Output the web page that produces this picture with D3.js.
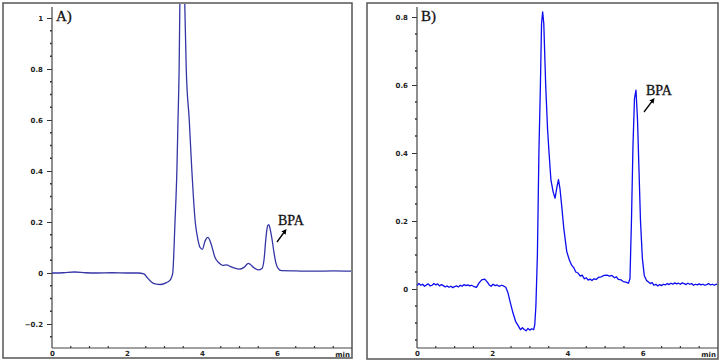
<!DOCTYPE html>
<html>
<head>
<meta charset="utf-8">
<script src="https://cdn.jsdelivr.net/npm/d3@7"></script>
<style>
  body { margin: 0; background: #fff; }
  svg { display: block; }
  .tick text { font-family: "DejaVu Sans", sans-serif; font-weight: bold; font-size: 7px; fill: #222; }
</style>
</head>
<body>
<script>
// chromatogram A (time in min, absorbance)
const traceA = [
  [0, 0], [0.3, 0.001], [0.6, 0.004], [0.9, 0.001], [1.2, 0.0], [1.6, 0.001], [2.0, 0.0], [2.3, 0.0],
  [2.45, -0.003], [2.55, -0.02], [2.65, -0.035], [2.75, -0.043], [2.9, -0.045], [3.05, -0.038],
  [3.15, -0.028], [3.2, -0.012], [3.22, 0.0], [3.28, 0.2], [3.33, 0.4], [3.36, 0.6], [3.39, 0.8],
  [3.41, 1.06], [3.44, 1.3], [3.5, 1.35], [3.54, 1.06], [3.58, 0.8], [3.66, 0.6], [3.73, 0.4],
  [3.77, 0.3], [3.82, 0.2], [3.88, 0.14], [3.95, 0.1], [4.01, 0.093], [4.08, 0.125], [4.16, 0.14],
  [4.24, 0.115], [4.35, 0.06], [4.45, 0.04], [4.55, 0.03], [4.66, 0.032], [4.75, 0.026], [4.85, 0.02],
  [5.0, 0.015], [5.12, 0.022], [5.24, 0.038], [5.35, 0.025], [5.5, 0.012], [5.6, 0.018], [5.66, 0.06],
  [5.7, 0.13], [5.75, 0.185], [5.78, 0.19], [5.82, 0.17], [5.87, 0.13], [5.92, 0.08], [5.97, 0.04],
  [6.03, 0.018], [6.12, 0.009], [6.5, 0.008], [7.0, 0.007], [7.5, 0.008], [8.0, 0.007]
];

// chromatogram B
const traceB = [
  [0, 0.01], [0.05, 0.016], [0.1, 0.011], [0.15, 0.014], [0.2, 0.008], [0.25, 0.012], [0.3, 0.015],
  [0.35, 0.009], [0.4, 0.011], [0.45, 0.016], [0.5, 0.012], [0.55, 0.015], [0.6, 0.009], [0.65, 0.013],
  [0.7, 0.01], [0.75, 0.006], [0.8, 0.009], [0.85, 0.005], [0.9, 0.008], [0.95, 0.004], [1.0, 0.007],
  [1.05, 0.009], [1.1, 0.006], [1.15, 0.011], [1.2, 0.008], [1.25, 0.013], [1.3, 0.01], [1.35, 0.012],
  [1.4, 0.009], [1.45, 0.011], [1.5, 0.008], [1.58, 0.005], [1.65, 0.018], [1.72, 0.027], [1.8, 0.029],
  [1.87, 0.02], [1.92, 0.012], [1.97, 0.008], [2.02, 0.014], [2.08, 0.01], [2.13, 0.012], [2.18, 0.008],
  [2.25, 0.011], [2.3, 0.009], [2.36, 0.005], [2.42, -0.012],
  [2.48, -0.04], [2.55, -0.07], [2.62, -0.095], [2.7, -0.11], [2.75, -0.12], [2.8, -0.114],
  [2.85, -0.119], [2.9, -0.123], [2.95, -0.116], [3.0, -0.121], [3.05, -0.117], [3.1, -0.12],
  [3.13, -0.105], [3.16, -0.05], [3.2, 0.1],
  [3.24, 0.4], [3.28, 0.6], [3.31, 0.78], [3.34, 0.815], [3.37, 0.78], [3.42, 0.6], [3.47, 0.47],
  [3.51, 0.4], [3.56, 0.32], [3.62, 0.285], [3.67, 0.267], [3.72, 0.3], [3.76, 0.322], [3.8, 0.295],
  [3.85, 0.24], [3.9, 0.18], [3.98, 0.11], [4.05, 0.085], [4.11, 0.07], [4.17, 0.062], [4.22, 0.05],
  [4.28, 0.047], [4.34, 0.038], [4.39, 0.041], [4.45, 0.03], [4.5, 0.033], [4.55, 0.026], [4.6, 0.029],
  [4.65, 0.025], [4.7, 0.03], [4.76, 0.028], [4.82, 0.034], [4.9, 0.036], [4.97, 0.04], [5.05, 0.041],
  [5.12, 0.038], [5.18, 0.04], [5.25, 0.033], [5.3, 0.036], [5.35, 0.028], [5.42, 0.027], [5.48, 0.022],
  [5.55, 0.02], [5.62, 0.017], [5.66, 0.03], [5.7, 0.2], [5.74, 0.42], [5.78, 0.56], [5.82, 0.585],
  [5.86, 0.5], [5.9, 0.35], [5.94, 0.2], [5.99, 0.09], [6.04, 0.04], [6.1, 0.025], [6.15, 0.021],
  [6.2, 0.016], [6.25, 0.019], [6.3, 0.011], [6.35, 0.014], [6.4, 0.009], [6.45, 0.013], [6.5, 0.01],
  [6.55, 0.014], [6.6, 0.012], [6.65, 0.016], [6.7, 0.013], [6.75, 0.017], [6.8, 0.014], [6.85, 0.018],
  [6.9, 0.015], [6.95, 0.017], [7.0, 0.014], [7.05, 0.018], [7.1, 0.016], [7.15, 0.013], [7.2, 0.017],
  [7.25, 0.014], [7.3, 0.016], [7.35, 0.011], [7.4, 0.014], [7.45, 0.012], [7.5, 0.015], [7.55, 0.012],
  [7.6, 0.014], [7.65, 0.011], [7.7, 0.013], [7.75, 0.016], [7.8, 0.012], [7.85, 0.014], [7.9, 0.011],
  [7.95, 0.014], [8.0, 0.013]
];

const xTicks = [0, 2, 4, 6];
const yTicksA = [-0.2, 0, 0.2, 0.4, 0.6, 0.8, 1];
const yTicksB = [0, 0.2, 0.4, 0.6, 0.8];

const svg = d3.select("body").append("svg").attr("width", 722).attr("height", 361);

const panels = [
  { id: "a", label: "A)", data: traceA, color: "#3535a6", curve: d3.curveMonotoneX,
    box: [3, 3, 352, 358], x0: 52, yDom: [0, 1], yRange: [273, 18], yMin: -0.294, yTicks: yTicksA,
    yFmt: d => d === 0 || d === 1 ? d3.format("d")(d) : d3.format(".1f")(d),
    bpa: { x: 278, y: 225, ax1: [277, 242], ax2: [285, 231] } },
  { id: "b", label: "B)", data: traceB, color: "#0c0cf0", curve: d3.curveLinear,
    box: [367, 3, 718, 359], x0: 417, yDom: [0, 0.8], yRange: [289, 17], yMin: -0.174, yTicks: yTicksB,
    yFmt: d => d === 0 ? "0" : d3.format(".1f")(d),
    bpa: { x: 646, y: 95, ax1: [644, 112], ax2: [653, 100] } }
];

const defs = svg.append("defs");
defs.append("marker").attr("id", "arr").attr("viewBox", "0 0 10 10")
  .attr("refX", 5).attr("refY", 5).attr("markerWidth", 4).attr("markerHeight", 4)
  .attr("orient", "auto")
  .append("path").attr("d", "M0,0L10,5L0,10z").attr("fill", "#000");

panels.forEach(p => {
  const [bx0, by0, bx1, by1] = p.box;
  const xAxisY = 348;
  const x = d3.scaleLinear().domain([0, 8]).range([p.x0, bx1]);
  const y = d3.scaleLinear().domain(p.yDom).range(p.yRange);

  svg.append("rect")
    .attr("x", bx0).attr("y", by0).attr("width", bx1 - bx0).attr("height", by1 - by0)
    .attr("fill", "none").attr("stroke", "#555").attr("stroke-width", 1.5);

  defs.append("clipPath").attr("id", "clip-" + p.id)
    .append("rect").attr("x", p.x0).attr("y", by0 + 1)
    .attr("width", bx1 - p.x0 - 1).attr("height", xAxisY - by0 - 1);

  // y axis
  const yAx = svg.append("g").attr("transform", `translate(${p.x0},0)`)
    .call(d3.axisLeft(y).tickValues(p.yTicks).tickFormat(p.yFmt).tickSize(5).tickPadding(4));
  yAx.select(".domain").remove();
  yAx.selectAll(".tick line").attr("stroke", "#333");
  const minorY = d3.range(Math.ceil(p.yMin / 0.05) * 0.05, y.invert(by0 + 4), 0.05)
    .filter(v => Math.abs(Math.round(v / 0.2) * 0.2 - v) > 0.01);
  svg.append("g").selectAll("line").data(minorY).join("line")
    .attr("x1", p.x0 - 2).attr("x2", p.x0).attr("y1", d => y(d)).attr("y2", d => y(d))
    .attr("stroke", "#333").attr("stroke-width", 1.5);
  svg.append("line").attr("x1", p.x0).attr("x2", p.x0).attr("y1", by0 + 4).attr("y2", xAxisY)
    .attr("stroke", "#444").attr("stroke-width", 1.2);

  // x axis
  const xAx = svg.append("g").attr("transform", `translate(0,${xAxisY})`)
    .call(d3.axisBottom(x).tickValues(xTicks).tickFormat(d3.format("d")).tickSize(0).tickPadding(3));
  xAx.select(".domain").remove();
  const minorX = d3.range(0.5, 8, 0.5).filter(v => v % 2 !== 0);
  svg.append("g").selectAll("line").data(minorX).join("line")
    .attr("x1", d => x(d)).attr("x2", d => x(d)).attr("y1", xAxisY - 2).attr("y2", xAxisY)
    .attr("stroke", "#333").attr("stroke-width", 1.2);
  svg.append("line").attr("x1", p.x0).attr("x2", bx1).attr("y1", xAxisY).attr("y2", xAxisY)
    .attr("stroke", "#444").attr("stroke-width", 1.2);
  svg.append("text").attr("x", bx1 - 2).attr("y", xAxisY + 9).attr("text-anchor", "end")
    .style("font-family", "DejaVu Sans, sans-serif").style("font-weight", "bold").style("font-size", "7px")
    .attr("fill", "#222").text("min");

  // trace
  const line = d3.line().x(d => x(d[0])).y(d => y(d[1])).curve(p.curve);
  svg.append("path").datum(p.data)
    .attr("clip-path", `url(#clip-${p.id})`)
    .attr("fill", "none").attr("stroke", p.color).attr("stroke-width", 1.3)
    .attr("stroke-linejoin", "round").attr("d", line);

  // panel label
  svg.append("text").attr("x", p.x0 + 4).attr("y", 21)
    .style("font-family", "Liberation Serif, serif").style("font-size", "15px")
    .attr("fill", "#111").attr("stroke", "#111").attr("stroke-width", 0.3).text(p.label);

  // BPA annotation
  svg.append("text").attr("x", p.bpa.x).attr("y", p.bpa.y)
    .style("font-family", "Liberation Serif, serif").style("font-size", "14px")
    .attr("fill", "#111").attr("stroke", "#111").attr("stroke-width", 0.3).text("BPA");
  svg.append("line").attr("x1", p.bpa.ax1[0]).attr("y1", p.bpa.ax1[1])
    .attr("x2", p.bpa.ax2[0]).attr("y2", p.bpa.ax2[1])
    .attr("stroke", "#000").attr("stroke-width", 1.3).attr("marker-end", "url(#arr)");
});
</script>
</body>
</html>
